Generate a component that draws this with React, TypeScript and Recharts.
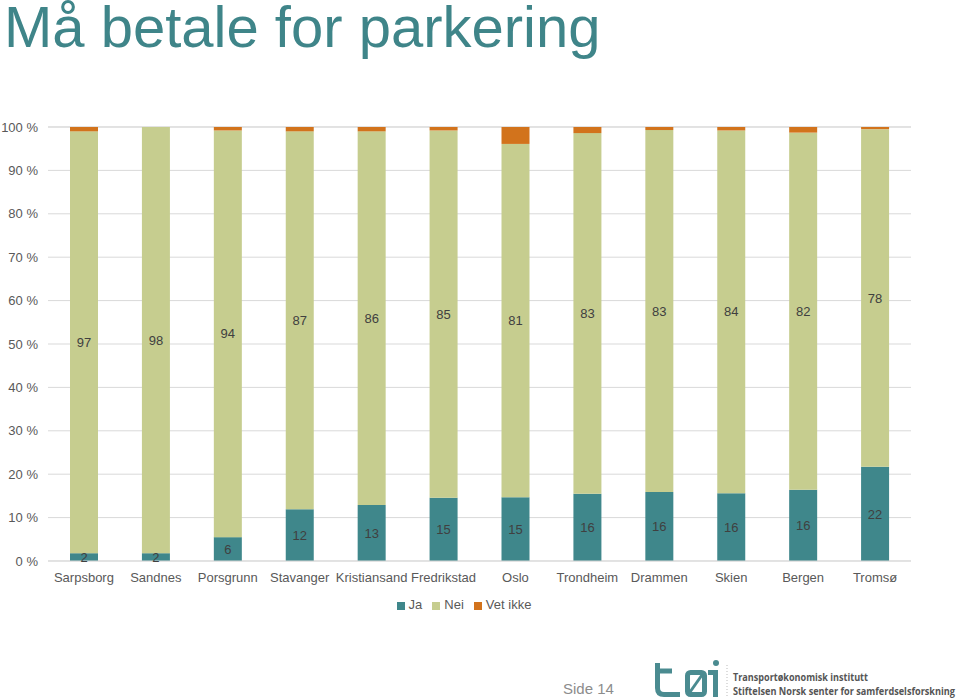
import React from "react";
import { BarChart, Bar, XAxis, YAxis, CartesianGrid, Legend, LabelList } from "recharts";

const cities = ["Sarpsborg", "Sandnes", "Porsgrunn", "Stavanger", "Kristiansand", "Fredrikstad", "Oslo", "Trondheim", "Drammen", "Skien", "Bergen", "Tromsø"];
const ja = [1.8, 1.8, 5.5, 11.9, 12.9, 14.6, 14.7, 15.5, 15.9, 15.6, 16.4, 21.7];
const vetIkke = [1.0, 0.0, 0.8, 1.0, 1.0, 0.8, 3.9, 1.4, 0.7, 0.8, 1.3, 0.5];
const nei = [97.2, 98.2, 93.7, 87.1, 86.1, 84.6, 81.4, 83.1, 83.4, 83.6, 82.3, 77.8];
const yTicks = [0, 10, 20, 30, 40, 50, 60, 70, 80, 90, 100];

const data = cities.map((c, i) => ({ city: c, Ja: ja[i], Nei: nei[i], "Vet ikke": vetIkke[i] }));

const TEAL = "#3F878B";
const GREEN = "#C6CD8F";
const ORANGE = "#D2731C";
const FONT = "'Liberation Sans', Arial, sans-serif";

const fmt = (v: any) => String(Math.round(Number(v)));

export default function App() {
  return (
    <div style={{ position: "absolute", left: 0, top: 0, width: 960, height: 700, background: "#fff", fontFamily: FONT, overflow: "hidden" }}>
      <div style={{ position: "absolute", left: 0, top: 0 }}>
        <BarChart width={960} height={700} data={data} margin={{ top: 127, right: 49, bottom: 109, left: 0 }} barSize={28}>
          <CartesianGrid vertical={false} stroke="#d9d9d9" />
          <XAxis dataKey="city" height={30} axisLine={{ stroke: "#d9d9d9" }} tickLine={false} tickSize={0} tickMargin={12} interval={0}
            tick={{ fill: "#595959", fontSize: 13, fontFamily: FONT }} />
          <YAxis width={48} domain={[0, 100]} ticks={yTicks} axisLine={false} tickLine={false} tickSize={0} tickMargin={10}
            tickFormatter={(v: number) => `${v} %`} tick={{ fill: "#595959", fontSize: 13, fontFamily: FONT }} />
          <Legend verticalAlign="middle" align="center" layout="horizontal" iconType="square" iconSize={8}
            wrapperStyle={{ top: 597, left: 0, width: 938, fontSize: 13, fontFamily: FONT }}
            formatter={(v: string) => <span style={{ color: "#595959" }}>{v}</span>} />
          <Bar dataKey="Ja" stackId="a" fill={TEAL} isAnimationActive={false}>
            <LabelList dataKey="Ja" position="center" formatter={fmt} fill="#404040" fontSize={13} fontFamily={FONT} />
          </Bar>
          <Bar dataKey="Nei" stackId="a" fill={GREEN} isAnimationActive={false}>
            <LabelList dataKey="Nei" position="center" formatter={fmt} fill="#404040" fontSize={13} fontFamily={FONT} />
          </Bar>
          <Bar dataKey="Vet ikke" stackId="a" fill={ORANGE} isAnimationActive={false} />
        </BarChart>
      </div>
      <svg width={960} height={700} style={{ position: "absolute", left: 0, top: 0, pointerEvents: "none" }}>
        <text x={4} y={47} fontSize={58} fill="#3F8589" fontFamily={FONT}>Må betale for parkering</text>
        <text x={563} y={694} fontSize={15} fill="#8c8c8c" fontFamily={FONT}>Side 14</text>
        <g fill="none" stroke="#4A8B90" strokeWidth={5} strokeLinecap="butt">
          <path d="M657.5 663 V688 Q657.5 694.5 664 694.5 H680" />
          <path d="M655 671 H672" />
          <rect x={687.5} y={672.5} width={17} height={22} rx={3} />
          <path d="M690 692 L702 675" strokeWidth={3} />
          <path d="M708 672.5 H715.5 V697" />
        </g>
        <circle cx={716} cy={663} r={3} fill="#4A8B90" />
        <line x1={727} y1={665} x2={727} y2={698} stroke="#bbb" strokeDasharray="1 2" />
        <text x={733} y={681} fontSize={11} fontWeight="bold" fill="#555" fontFamily="'Open Sans', sans-serif" textLength={135} lengthAdjust="spacingAndGlyphs">Transportøkonomisk institutt</text>
        <text x={733} y={695} fontSize={10.5} fontWeight="bold" fill="#555" fontFamily="'Open Sans', sans-serif" textLength={222} lengthAdjust="spacingAndGlyphs">Stiftelsen Norsk senter for samferdselsforskning</text>
      </svg>
    </div>
  );
}
